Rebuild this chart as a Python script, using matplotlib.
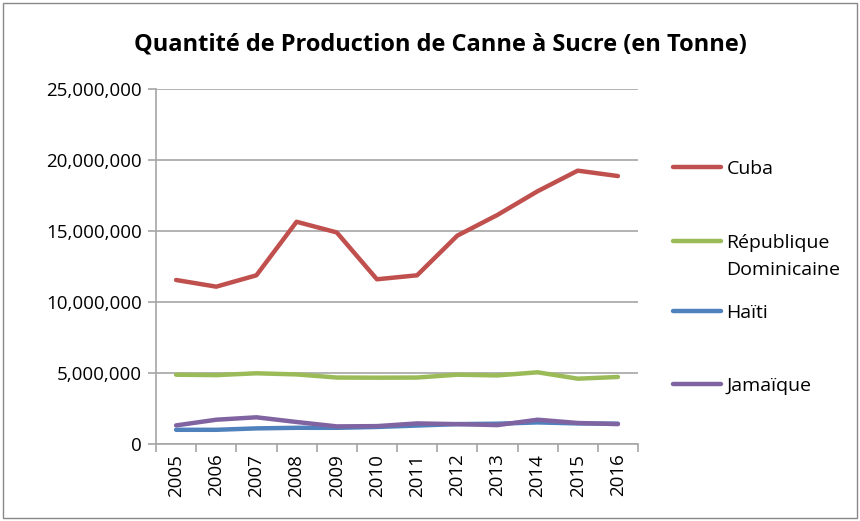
import numpy as np
import matplotlib.pyplot as plt
from matplotlib.ticker import FuncFormatter, FixedLocator
from matplotlib.patches import Rectangle
from matplotlib.lines import Line2D

plt.rcParams['font.family'] = ['Open Sans', 'DejaVu Sans']

years = ['2005', '2006', '2007', '2008', '2009', '2010',
         '2011', '2012', '2013', '2014', '2015', '2016']
cuba = [11.55, 11.08, 11.88, 15.65, 14.9, 11.6, 11.88, 14.67, 16.13, 17.8, 19.25, 18.87]
rep_dom = [4.88, 4.85, 4.98, 4.9, 4.68, 4.67, 4.68, 4.88, 4.83, 5.05, 4.6, 4.72]
haiti = [1.0, 1.0, 1.1, 1.14, 1.14, 1.2, 1.3, 1.4, 1.43, 1.52, 1.45, 1.43]
jamaique = [1.31, 1.71, 1.88, 1.55, 1.24, 1.26, 1.45, 1.4, 1.33, 1.71, 1.48, 1.4]

series = [
    ('Cuba', cuba, '#C0504D'),
    ('République', rep_dom, '#9BBB59'),
    ('Haïti', haiti, '#4F81BD'),
    ('Jamaïque', jamaique, '#8064A2'),
]
# vertical position (pixels from top) of each legend entry, as in the original
legend_y = [169, 243, 313, 386]

fig = plt.figure(figsize=(8.6, 5.21), dpi=100)
ax = fig.add_axes([156/860, 1 - 444/521, (638 - 156)/860, (444 - 89)/521])

x = np.arange(len(years))
lines = []
for name, vals, col in series:
    ln, = ax.plot(x, np.array(vals) * 1e6, color=col, lw=3.2, label=name,
                  solid_capstyle='round', solid_joinstyle='round')
    lines.append(ln)

ax.set_xlim(-0.5, len(years) - 0.5)
ax.set_ylim(0, 25e6)
ax.set_yticks(np.arange(0, 25e6 + 1, 5e6))
ax.yaxis.set_major_formatter(FuncFormatter(lambda v, p: f'{int(v):,}'))
ax.grid(axis='y', color='#a6a6a6', lw=1.2)
ax.set_axisbelow(True)

ax.set_xticks(x)
ax.set_xticklabels(years, rotation=90)
ax.xaxis.set_minor_locator(FixedLocator(np.arange(-0.5, len(years), 1)))
ax.tick_params(axis='x', which='major', length=0, pad=7, labelsize=13.5)
ax.tick_params(axis='x', which='minor', length=6, color='#a6a6a6', width=1.2)
ax.tick_params(axis='y', length=6, color='#a6a6a6', width=1.2, labelsize=13.5, pad=4)

for s in ['top', 'right']:
    ax.spines[s].set_visible(False)
for s in ['left', 'bottom']:
    ax.spines[s].set_color('#a6a6a6')
    ax.spines[s].set_linewidth(1.2)

fig.text(0.512, 1 - 45/521, 'Quantité de Production de Canne à Sucre (en Tonne)',
         ha='center', va='center', fontsize=17, fontweight='bold')

# one legend per entry, so the uneven spacing of the original can be kept
leg_kw = dict(loc='center left', frameon=False, fontsize=14, handlelength=2.45,
              handletextpad=0.3, borderpad=0, borderaxespad=0)
for ln, yy in zip(lines, legend_y):
    fig.legend([ln], [ln.get_label()], bbox_to_anchor=(673/860, 1 - yy/521), **leg_kw)
# second line of "République Dominicaine", handle hidden
fig.legend([Line2D([], [], alpha=0)], ['Dominicaine'],
           bbox_to_anchor=(673/860, 1 - 270/521), **leg_kw)

fig.patches.append(Rectangle((0.003, 0.005), 0.994, 0.99, transform=fig.transFigure,
                             fill=False, edgecolor='#888888', lw=1))

fig.savefig('out.png', dpi=100)
